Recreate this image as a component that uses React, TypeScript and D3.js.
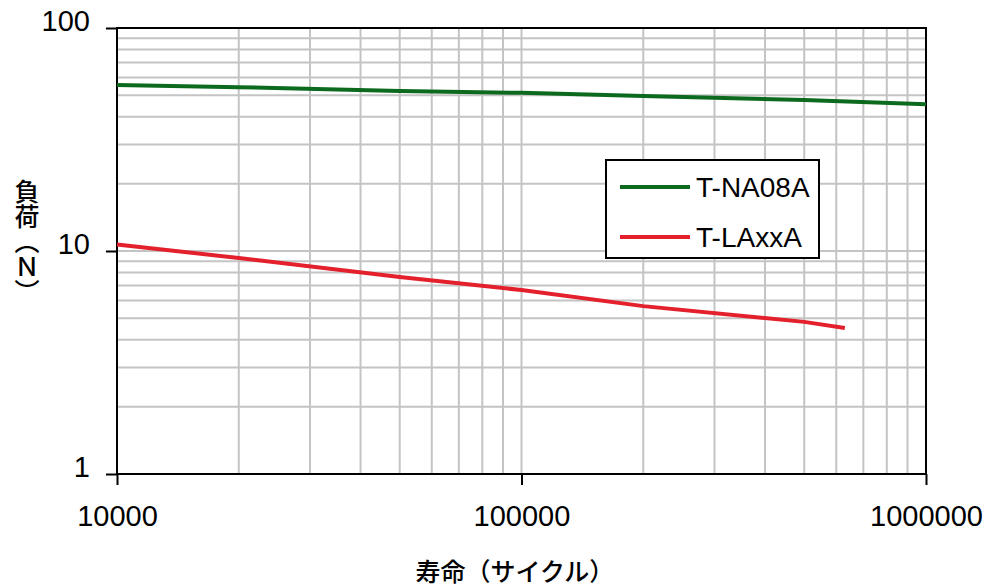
import React, { useEffect, useRef } from "react";
import * as d3 from "d3";

// cycles (x) and load in N (y)
const naCycles = [10000, 20000, 50000, 100000, 200000, 500000, 1000000];
const naLoad = [55.5, 54.3, 52.2, 51.2, 49.5, 47.5, 45.5];

const laCycles = [10000, 20000, 50000, 100000, 200000, 500000, 630000];
const laLoad = [10.7, 9.3, 7.64, 6.68, 5.66, 4.81, 4.52];

const xTicks = [10000, 100000, 1000000];
const yTicks = [1, 10, 100];

const seriesNames = ["T-NA08A", "T-LAxxA"];
const seriesColors = ["#0b6a1e", "#e3202b"];

export default function App() {
    const ref = useRef<SVGSVGElement>(null);

    useEffect(() => {
        const width = 989;
        const height = 587;
        const margin = { top: 28, right: 63, bottom: 113, left: 117 };

        const svg = d3.select(ref.current);
        svg.selectAll("*").remove();

        const x = d3.scaleLog().domain([10000, 1000000]).range([margin.left, width - margin.right]);
        const y = d3.scaleLog().domain([1, 100]).range([height - margin.bottom, margin.top]);

        const [x0, x1] = x.range();
        const [y0, y1] = y.range();

        // minor grid values 1..9 per decade
        const gridX: number[] = [];
        const gridY: number[] = [];
        for (let d = 10000; d < 1000000; d *= 10) {
            for (let k = 1; k < 10; k++) gridX.push(d * k);
        }
        for (let d = 1; d < 100; d *= 10) {
            for (let k = 1; k < 10; k++) gridY.push(d * k);
        }

        const grid = svg.append("g").attr("stroke", "#c4c4c4").attr("stroke-width", 2);
        grid.selectAll("line.gx")
            .data(gridX.slice(1))
            .enter().append("line")
            .attr("x1", d => x(d)).attr("x2", d => x(d))
            .attr("y1", y1).attr("y2", y0);
        grid.selectAll("line.gy")
            .data(gridY.slice(1))
            .enter().append("line")
            .attr("x1", x0).attr("x2", x1)
            .attr("y1", d => y(d)).attr("y2", d => y(d));

        // frame
        svg.append("rect")
            .attr("x", x0).attr("y", y1)
            .attr("width", x1 - x0).attr("height", y0 - y1)
            .attr("fill", "none").attr("stroke", "#000").attr("stroke-width", 2);

        // axes
        const font = "'Liberation Sans', Arial, sans-serif";
        svg.append("g")
            .attr("transform", "translate(0," + y0 + ")")
            .call(d3.axisBottom(x).tickValues(xTicks).tickFormat(d3.format("d")).tickSize(11).tickPadding(20))
            .call(g => g.select(".domain").remove())
            .call(g => g.selectAll("line").attr("stroke", "#000").attr("stroke-width", 2))
            .selectAll("text")
            .attr("fill", "#000")
            .style("font-family", font)
            .style("font-size", "29px");

        svg.append("g")
            .attr("transform", "translate(" + x0 + ",0)")
            .call(d3.axisLeft(y).tickValues(yTicks).tickFormat(d3.format("d")).tickSize(11).tickPadding(16))
            .call(g => g.select(".domain").remove())
            .call(g => g.selectAll("line").attr("stroke", "#000").attr("stroke-width", 2))
            .selectAll("text")
            .attr("fill", "#000")
            .attr("dy", "0.1em")
            .style("font-family", font)
            .style("font-size", "29px");

        // series
        const line = d3.line<[number, number]>()
            .x(d => x(d[0]))
            .y(d => y(d[1]));

        const series = [
            d3.zip(naCycles, naLoad) as [number, number][],
            d3.zip(laCycles, laLoad) as [number, number][]
        ];
        series.forEach((s, i) => {
            svg.append("path")
                .datum(s)
                .attr("fill", "none")
                .attr("stroke", seriesColors[i])
                .attr("stroke-width", 4)
                .attr("d", line);
        });

        // legend
        const legend = svg.append("g").attr("transform", "translate(606,160)");
        legend.append("rect")
            .attr("width", 213).attr("height", 98)
            .attr("fill", "#fff").attr("stroke", "#000").attr("stroke-width", 2);
        seriesNames.forEach((name, i) => {
            const ly = 27 + i * 50;
            legend.append("line")
                .attr("x1", 14).attr("x2", 84)
                .attr("y1", ly).attr("y2", ly)
                .attr("stroke", seriesColors[i]).attr("stroke-width", 4);
            legend.append("text")
                .attr("x", 90).attr("y", ly + 10)
                .style("font-family", font)
                .style("font-size", "28px")
                .text(name);
        });

        // axis titles
        const cjk = "'Noto Sans CJK JP', sans-serif";
        svg.append("text")
            .attr("x", 515).attr("y", 581)
            .attr("text-anchor", "middle")
            .style("font-family", cjk)
            .style("font-size", "25px")
            .style("font-weight", "500")
            .text("寿命（サイクル）");

        svg.append("text")
            .attr("x", 27).attr("y", 179)
            .style("writing-mode", "vertical-rl")
            .style("font-family", cjk)
            .style("font-size", "25px")
            .style("font-weight", "500")
            .text("負荷（Ｎ）");
    }, []);

    return (
        <svg ref={ref} width={989} height={587}
             style={{ position: "absolute", left: 0, top: 0, background: "#fff" }} />
    );
}
